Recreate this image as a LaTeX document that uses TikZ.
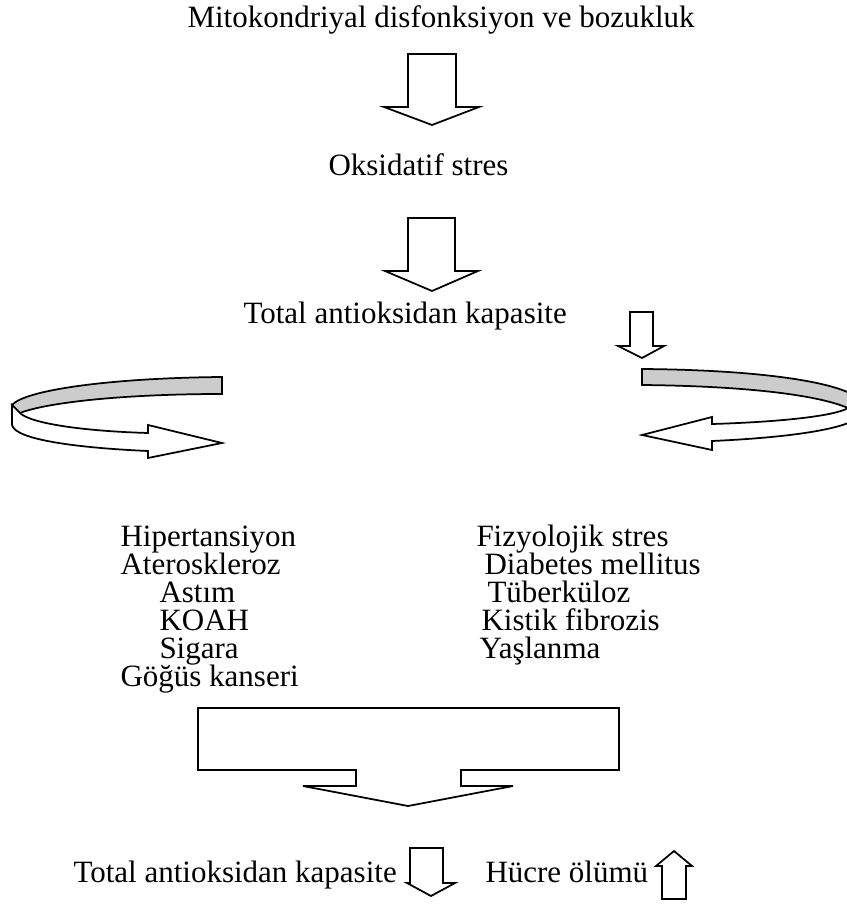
\documentclass[tikz,border=0pt]{standalone}
\usepackage{fontspec}
\setmainfont{Liberation Serif}

\begin{document}
\begin{tikzpicture}[x=0.4pt,y=-0.4pt,
        every node/.style={inner sep=0pt,anchor=base west,font=\fontsize{12.4}{14}\selectfont},
        blok/.style={draw,line width=0.7pt,fill=white,line join=miter},
        bant/.style={draw,line width=0.7pt,fill=gray!40}]
        \useasboundingbox(0,0)rectangle(846,904);

        \node(mito)at(187,28){Mitokondriyal disfonksiyon ve bozukluk};
        \draw[blok](408,54)--(456,54)--(456,107)--(479,107)--(432,125)--(384,107)--(408,107)--cycle;
        \node(oksi)at(328,176){Oksidatif stres};
        \draw[blok](408,218)--(455,218)--(455,271)--(478,271)--(432,291)--(385,271)--(408,271)--cycle;

        \node(tak)at(243,324){Total antioksidan kapasite};
        \draw[blok](630,312)--(653,312)--(653,346)--(664,346)--(642,358)--(618,346)--(630,346)--cycle;

        % sol ve sag donen oklar
        \draw[bant](222,377) .. controls (110,378) and (25,390) .. (12,405)--(20,413) .. controls (45,403) and (120,394) .. (222,394)--cycle;
        \draw[blok](12,405)--(12,425) .. controls (15,440) and (80,448) .. (148,451)--(148,458)--(222,443)--(148,425)--(148,433) .. controls (80,431) and (30,423) .. (20,413)--cycle;
        \draw[bant](642,369) .. controls (770,370) and (850,384) .. (862,402)--(848,408) .. controls (815,394) and (740,386) .. (642,385)--cycle;
        \draw[blok](862,402)--(862,414) .. controls (852,430) and (780,438) .. (712,441)--(712,450)--(642,435)--(712,417)--(712,424) .. controls (780,422) and (835,416) .. (848,408)--cycle;

        \node(hiper)at(120,546){Hipertansiyon};
        \node(atero)at(120,574){Ateroskleroz};
        \node(astim)at(159,602){Astım};
        \node(koah)at(159,630){KOAH};
        \node(sigara)at(159,658){Sigara};
        \node(gogus)at(120,686){Göğüs kanseri};

        \node(fizyo)at(476,546){Fizyolojik stres};
        \node(diyabet)at(484,574){Diabetes mellitus};
        \node(tuberk)at(487,602){Tüberküloz};
        \node(kistik)at(481,630){Kistik fibrozis};
        \node(yasl)at(479,658){Yaşlanma};

        \draw[blok](198,708)--(619,708)--(619,770)--(461,770)--(461,786)--(513,786)--(408,806)--(303,786)--(356,786)--(356,770)--(198,770)--cycle;

        \node(tak2)at(73,882){Total antioksidan kapasite};
        \draw[blok](410,848)--(443,848)--(443,883)--(455,883)--(431,896)--(407,883)--(410,883)--cycle;
        \node(hucre)at(485,882){Hücre ölümü};
        \draw[blok](662,899)--(662,866)--(656,866)--(674,851)--(692,866)--(686,866)--(686,899)--cycle;
\end{tikzpicture}
\end{document}
